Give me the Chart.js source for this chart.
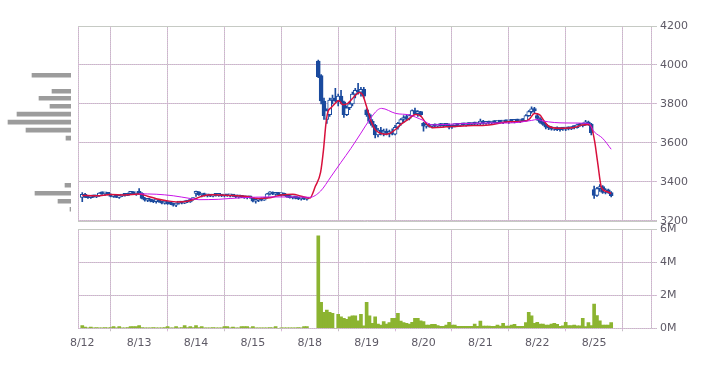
<!DOCTYPE html>
<html><head><meta charset="utf-8">
<script src="https://cdn.jsdelivr.net/npm/chart.js@4"></script>
<style>
html,body{margin:0;padding:0;background:#fff;}
#wrap{position:relative;width:717px;height:382px;overflow:hidden;background:#fff;}
canvas{position:absolute;}
#cPrice{left:0;top:0;width:717px;height:232px;}
#cVol{left:0;top:214px;width:717px;height:168px;}
#cProf{left:0;top:0;width:78px;height:232px;}
</style></head><body>
<div id="wrap">
<canvas id="cPrice" width="717" height="232"></canvas>
<canvas id="cVol" width="717" height="168"></canvas>
<canvas id="cProf" width="78" height="232"></canvas>
</div>
<script>
// ---------- DATA ----------
const dayLabels = ['8/12','8/13','8/14','8/15','8/18','8/19','8/20','8/21','8/22','8/25'];
const slotsPerDay = 20;
const priceTicks = [3200, 3400, 3600, 3800, 4000, 4200];
const volumeTicks = [0, 2, 4, 6]; // millions of shares

// candles per day: [open, high, low, close]; null = no trade in that slot
const aug12 = [[3320,3345,3298,3335],[3335,3340,3318,3322],[3322,3328,3315,3318],[3318,3326,3315,3325],[3325,3332,3320,3322],[3322,3330,3318,3328],[3328,3345,3325,3342],[3342,3348,3335,3338],[3338,3345,3330,3344],[3344,3346,3332,3335],[3335,3338,3322,3325],[3325,3330,3320,3328],[3328,3332,3318,3320],[3320,3328,3315,3326],[3326,3335,3324,3333],[3333,3340,3326,3330],[3330,3342,3328,3340],[3340,3348,3335,3345],[3345,3350,3336,3338],[3338,3345,3330,3340]];
const aug13 = [[3345,3365,3335,3340],[3340,3344,3312,3315],[3315,3320,3300,3305],[3305,3312,3298,3310],[3310,3312,3296,3300],[3300,3305,3292,3298],[3298,3304,3290,3302],[3302,3306,3294,3296],[3296,3300,3286,3290],[3290,3298,3285,3295],[3295,3297,3284,3288],[3288,3294,3282,3286],[3286,3290,3275,3280],[3280,3292,3272,3290],[3290,3298,3285,3294],[3294,3298,3286,3290],[3290,3302,3288,3300],[3300,3305,3292,3296],[3296,3312,3294,3308],[3308,3318,3305,3314]];
const aug14 = [[3340,3352,3325,3348],[3348,3350,3330,3332],[3332,3340,3322,3338],[3338,3342,3326,3328],[3328,3334,3322,3331],[3331,3336,3324,3326],[3326,3334,3322,3332],[3332,3338,3326,3330],[3330,3336,3325,3334],[3334,3336,3324,3327],[3327,3333,3322,3330],[3330,3334,3325,3328],[3328,3333,3322,3331],[3331,3335,3324,3326],[3326,3330,3318,3322],[3322,3328,3316,3325],[3325,3330,3318,3320],[3320,3326,3314,3318],[3318,3324,3312,3322],[3322,3326,3315,3318]];
const aug15 = [[3318,3320,3296,3300],[3300,3308,3290,3305],[3305,3315,3298,3312],[3312,3318,3302,3306],[3306,3320,3304,3318],[3318,3340,3316,3338],[3338,3350,3332,3344],[3344,3348,3334,3336],[3336,3344,3330,3342],[3342,3346,3332,3334],[3334,3340,3326,3338],[3338,3342,3328,3330],[3330,3334,3320,3324],[3324,3330,3316,3318],[3318,3325,3312,3322],[3322,3326,3312,3315],[3315,3320,3308,3312],[3312,3318,3306,3316],[3316,3320,3308,3310],[3310,3316,3306,3312]];
const aug18 = [null,null,null,[4020,4025,3935,3940],[3945,3950,3800,3815],[3815,3830,3720,3740],[3720,3775,3700,3765],[3745,3830,3735,3820],[3820,3845,3800,3830],[3830,3880,3810,3815],[3815,3850,3790,3840],[3840,3870,3800,3810],[3810,3815,3730,3745],[3745,3790,3740,3780],[3780,3810,3770,3800],[3800,3860,3790,3850],[3850,3880,3830,3870],[3870,3905,3850,3860],[3860,3885,3840,3875],[3875,3885,3830,3840]];
const aug19 = [[3770,3775,3735,3745],[3745,3750,3700,3710],[3710,3720,3680,3690],[3690,3695,3625,3640],[3640,3675,3630,3665],[3665,3680,3640,3650],[3650,3670,3635,3660],[3660,3672,3640,3648],[3648,3665,3630,3655],[3655,3672,3640,3645],[3645,3690,3640,3680],[3680,3705,3670,3700],[3700,3725,3690,3720],[3720,3740,3705,3730],[3730,3745,3715,3725],[3725,3745,3718,3740],[3740,3770,3735,3765],[3765,3778,3745,3750],[3750,3765,3735,3760],[3760,3762,3735,3745]];
const aug20 = [[3700,3705,3660,3685],[3685,3695,3675,3690],[3690,3698,3680,3684],[3684,3692,3676,3690],[3690,3698,3682,3686],[3686,3694,3678,3692],[3692,3700,3684,3688],[3688,3696,3680,3694],[3694,3700,3686,3690],[3690,3698,3672,3680],[3680,3692,3674,3688],[3688,3696,3682,3692],[3692,3700,3686,3690],[3690,3698,3684,3695],[3695,3702,3688,3692],[3692,3700,3686,3697],[3697,3704,3690,3694],[3694,3702,3688,3699],[3699,3706,3692,3696],[3696,3704,3690,3700]];
const aug21 = [[3700,3722,3690,3712],[3712,3716,3695,3700],[3700,3710,3694,3706],[3706,3712,3696,3702],[3702,3710,3695,3708],[3708,3714,3700,3704],[3704,3712,3698,3710],[3710,3716,3702,3706],[3706,3714,3698,3712],[3712,3718,3704,3708],[3708,3716,3700,3713],[3713,3720,3705,3710],[3710,3718,3702,3715],[3715,3722,3706,3712],[3712,3720,3704,3716],[3716,3724,3708,3714],[3714,3745,3712,3740],[3740,3765,3735,3760],[3760,3785,3752,3775],[3775,3782,3755,3765]];
const aug22 = [[3740,3750,3715,3725],[3725,3730,3700,3705],[3705,3712,3690,3695],[3695,3700,3672,3680],[3680,3688,3668,3676],[3676,3684,3665,3670],[3670,3680,3664,3676],[3676,3682,3662,3668],[3668,3678,3660,3674],[3674,3680,3664,3670],[3670,3678,3662,3675],[3675,3682,3666,3672],[3672,3684,3668,3680],[3680,3688,3672,3678],[3678,3696,3675,3692],[3692,3700,3684,3688],[3688,3702,3682,3698],[3698,3716,3690,3700],[3700,3712,3690,3696],[3696,3700,3640,3652]];
const aug25 = [[3360,3378,3315,3330],[3330,3372,3325,3365],[3365,3385,3350,3375],[3375,3380,3340,3345],[3345,3365,3338,3358],[3358,3362,3340,3345],[3345,3350,3322,3328]];

// volume per slot, millions of shares
const vol12 = [0.16,0.08,0.03,0.08,0.03,0.04,0.03,0.03,0.04,0.03,0.04,0.10,0.03,0.10,0.03,0.03,0.04,0.10,0.10,0.10];
const vol13 = [0.16,0.04,0.03,0.03,0.03,0.04,0.03,0.03,0.03,0.04,0.10,0.03,0.03,0.10,0.03,0.04,0.16,0.04,0.10,0.04];
const vol14 = [0.16,0.04,0.10,0.03,0.03,0.03,0.04,0.03,0.03,0.03,0.10,0.10,0.03,0.08,0.03,0.03,0.10,0.10,0.10,0.03];
const vol15 = [0.10,0.03,0.03,0.03,0.03,0.03,0.04,0.03,0.10,0,0.03,0.03,0.03,0.03,0.03,0.03,0.04,0.03,0.10,0.10];
const vol18 = [null,null,null,5.6,1.58,0.97,1.1,0.97,0.9,0,0.85,0.7,0.6,0.55,0.7,0.75,0.75,0.45,0.85,0.15];
const vol19 = [1.58,0.75,0.3,0.7,0.25,0.2,0.4,0.26,0.34,0.6,0.6,0.9,0.44,0.34,0.3,0.26,0.36,0.6,0.6,0.46];
const vol20 = [0.4,0.2,0.2,0.24,0.24,0.16,0.12,0.12,0.2,0.36,0.2,0.2,0.12,0.12,0.12,0.12,0.12,0.12,0.26,0.12];
const vol21 = [0.44,0.14,0.14,0.14,0.12,0.12,0.2,0.14,0.3,0.14,0.14,0.2,0.24,0.12,0.12,0.12,0.34,0.97,0.75,0.3];
const vol22 = [0.36,0.26,0.26,0.2,0.2,0.26,0.3,0.24,0.12,0.15,0.36,0.16,0.16,0.2,0.15,0.15,0.6,0.1,0.34,0.16];
const vol25 = [1.47,0.77,0.46,0.2,0.2,0.2,0.34];

// moving averages: [day position, price]
const maShort = [[0.00,3330],[0.25,3328],[0.50,3334],[0.75,3332],[1.00,3337],[1.15,3326],[1.30,3313],[1.46,3304],[1.68,3296],[1.85,3300],[1.97,3310],[2.10,3326],[2.30,3333],[2.60,3330],[2.90,3324],[3.10,3314],[3.30,3318],[3.50,3332],[3.70,3336],[3.85,3326],[4.00,3316],[4.10,3378],[4.19,3448],[4.24,3560],[4.285,3700],[4.32,3760],[4.375,3780],[4.42,3794],[4.51,3818],[4.58,3796],[4.67,3803],[4.78,3837],[4.87,3858],[4.93,3846],[4.99,3794],[5.08,3709],[5.14,3672],[5.22,3652],[5.32,3644],[5.42,3650],[5.52,3672],[5.60,3695],[5.72,3718],[5.86,3745],[5.95,3738],[6.04,3702],[6.16,3678],[6.40,3682],[6.70,3687],[7.15,3692],[7.50,3708],[7.80,3712],[7.86,3722],[7.95,3750],[8.04,3745],[8.12,3712],[8.20,3685],[8.38,3675],[8.67,3680],[8.78,3692],[8.90,3694],[8.95,3684],[9.01,3606],[9.06,3503],[9.13,3370],[9.22,3350],[9.30,3340]];
const maLong = [[1.00,3338],[1.30,3336],[1.60,3328],[1.90,3314],[2.05,3308],[2.40,3310],[2.80,3318],[3.30,3322],[3.80,3322],[4.00,3320],[4.19,3352],[4.37,3425],[4.55,3500],[4.72,3570],[4.90,3650],[5.06,3722],[5.19,3768],[5.26,3777],[5.51,3751],[5.75,3743],[5.98,3717],[6.16,3692],[6.57,3697],[7.15,3702],[7.50,3702],[7.90,3715],[8.00,3720],[8.10,3712],[8.50,3702],[8.90,3700],[9.00,3657],[9.15,3623],[9.30,3567]];

// volume-by-price profile
const profilePrices = [3947, 3865, 3829, 3788, 3747, 3706, 3665, 3624, 3382, 3341, 3300, 3259];
const profileVolumes = [7.8, 3.8, 6.4, 4.2, 10.8, 12.6, 9.0, 1.0, 1.2, 7.2, 2.6, 0.2];

// ---------- STYLE ----------
const BLUE = '#1a4a9e';
const RED = '#d8103c';
const MAGENTA = '#c814e8';
const GREEN = '#8cb431';
const GREY_BAR = '#9c9c9c';
const FRAME = '#c6cac4';
const TEXT = '#5e5a66';
// dotted grid: alternating grey / pink pixels
const GRID = (() => {
  const p = document.createElement('canvas'); p.width = 2; p.height = 2;
  const g = p.getContext('2d');
  g.fillStyle = '#c2c2c2'; g.fillRect(0, 0, 2, 2);
  g.fillStyle = '#ddb6dd'; g.fillRect(1, 0, 1, 1); g.fillRect(0, 1, 1, 1);
  return g.createPattern(p, 'repeat');
})();
Chart.defaults.font.family = 'DejaVu Sans';
Chart.defaults.font.size = 11;
Chart.defaults.color = TEXT;
Chart.defaults.animation = false;

const candleDays = [aug12, aug13, aug14, aug15, aug18, aug19, aug20, aug21, aug22, aug25];
const volumeDays = [vol12, vol13, vol14, vol15, vol18, vol19, vol20, vol21, vol22, vol25];
const bodies = [], wicks = [], vols = [];
candleDays.forEach((day, d) => day.forEach((c, s) => {
  if (!c) return;
  const x = d + s / slotsPerDay;
  bodies.push({x, y: [c[0], c[3]], up: c[3] > c[0]});
  wicks.push({x, y: [c[2], c[1]]});
}));
volumeDays.forEach((day, d) => day.forEach((v, s) => {
  if (v === null) return;
  vols.push({x: d + s / slotsPerDay, y: v});
}));

const framePlugin = {
  id: 'frame',
  afterDatasetsDraw(chart, args, opts) {
    const {ctx, chartArea: a} = chart;
    const L = Math.round(a.left) + 0.5, R = Math.round(a.right) + 0.5;
    const T = Math.round(a.top) + 0.5, B = Math.round(a.bottom) + 0.5;
    ctx.save();
    ctx.lineWidth = 1;
    ctx.strokeStyle = GRID;
    ctx.beginPath(); ctx.moveTo(L, a.top); ctx.lineTo(L, a.bottom); ctx.stroke();
    ctx.beginPath(); ctx.moveTo(R, a.top); ctx.lineTo(R, a.bottom); ctx.stroke();
    ctx.strokeStyle = FRAME;
    ctx.beginPath(); ctx.moveTo(a.left, T); ctx.lineTo(a.right + 6, T); ctx.stroke();
    if (opts.bottomSolid) {
      ctx.beginPath(); ctx.moveTo(a.left, B); ctx.lineTo(a.right + 6, B); ctx.stroke();
    }
    ctx.restore();
  }
};

function xScale(showLabels) {
  return {
    type: 'linear', min: -0.075, max: 10, offset: false,
    afterBuildTicks: s => { s.ticks = dayLabels.map((_, i) => ({value: i})); },
    ticks: {display: showLabels, padding: 5, maxRotation: 0, autoSkip: false, color: TEXT,
            callback: v => dayLabels[v]},
    grid: {color: GRID, drawTicks: showLabels, tickLength: 3},
    border: {display: false},
    afterFit: s => { s.height = showLabels ? 30 : 0; }
  };
}

// ---------- PRICE CHART ----------
new Chart(document.getElementById('cPrice'), {
  type: 'bar',
  data: {
    datasets: [
      {type: 'line', data: maLong.map(p => ({x: p[0], y: p[1]})), borderColor: MAGENTA, borderWidth: 1,
       pointRadius: 0, cubicInterpolationMode: 'monotone', order: -2},
      {type: 'line', data: maShort.map(p => ({x: p[0], y: p[1]})), borderColor: RED, borderWidth: 1.5,
       pointRadius: 0, cubicInterpolationMode: 'monotone', order: -1},
      {data: bodies, barThickness: 4, minBarLength: 2, grouped: false, borderSkipped: false, borderWidth: 1,
       borderColor: BLUE, backgroundColor: c => (c.raw && c.raw.up) ? '#ffffff' : BLUE, order: 0},
      {data: wicks, barThickness: 1, grouped: false, borderWidth: 0, backgroundColor: BLUE, order: 1}
    ]
  },
  options: {
    responsive: false, animation: false,
    layout: {padding: {left: 78, top: 26, right: 0, bottom: 11.3}},
    plugins: {legend: {display: false}, tooltip: {enabled: false}, frame: {bottomSolid: true}},
    scales: {
      x: xScale(false),
      y: {
        position: 'right', min: 3200, max: 4200,
        afterBuildTicks: s => { s.ticks = priceTicks.map(v => ({value: v})); },
        ticks: {padding: 3, color: TEXT, callback: v => String(v)},
        grid: {color: GRID, tickLength: 6},
        border: {display: false},
        afterFit: s => { s.width = 66; }
      }
    }
  },
  plugins: [framePlugin]
});

// ---------- VOLUME CHART ----------
new Chart(document.getElementById('cVol'), {
  type: 'bar',
  data: {datasets: [{data: vols, barThickness: 3, grouped: false, borderWidth: 0, backgroundColor: GREEN}]},
  options: {
    responsive: false, animation: false,
    layout: {padding: {left: 78, top: 15.3, right: 0, bottom: 23.7}},
    plugins: {legend: {display: false}, tooltip: {enabled: false}, frame: {bottomSolid: false}},
    scales: {
      x: xScale(true),
      y: {
        position: 'right', min: 0, max: 6,
        afterBuildTicks: s => { s.ticks = volumeTicks.map(v => ({value: v})); },
        ticks: {padding: 3, color: TEXT, callback: v => v + 'M'},
        grid: {color: GRID, tickLength: 6},
        border: {display: false},
        afterFit: s => { s.width = 66; }
      }
    }
  },
  plugins: [framePlugin]
});

// ---------- VOLUME-BY-PRICE PROFILE ----------
new Chart(document.getElementById('cProf'), {
  type: 'bar',
  data: {datasets: [{data: profilePrices.map((p, i) => ({x: profileVolumes[i], y: p})),
                     barThickness: 4, grouped: false, borderWidth: 0, backgroundColor: GREY_BAR}]},
  options: {
    indexAxis: 'y', responsive: false, animation: false,
    layout: {padding: {left: 0, top: 26, right: 7, bottom: 11.3}},
    plugins: {legend: {display: false}, tooltip: {enabled: false}},
    scales: {
      y: {type: 'linear', min: 3200, max: 4200, display: false, offset: false},
      x: {type: 'linear', min: 0, max: 14.2, reverse: true, display: false}
    }
  }
});
</script>
</body></html>
